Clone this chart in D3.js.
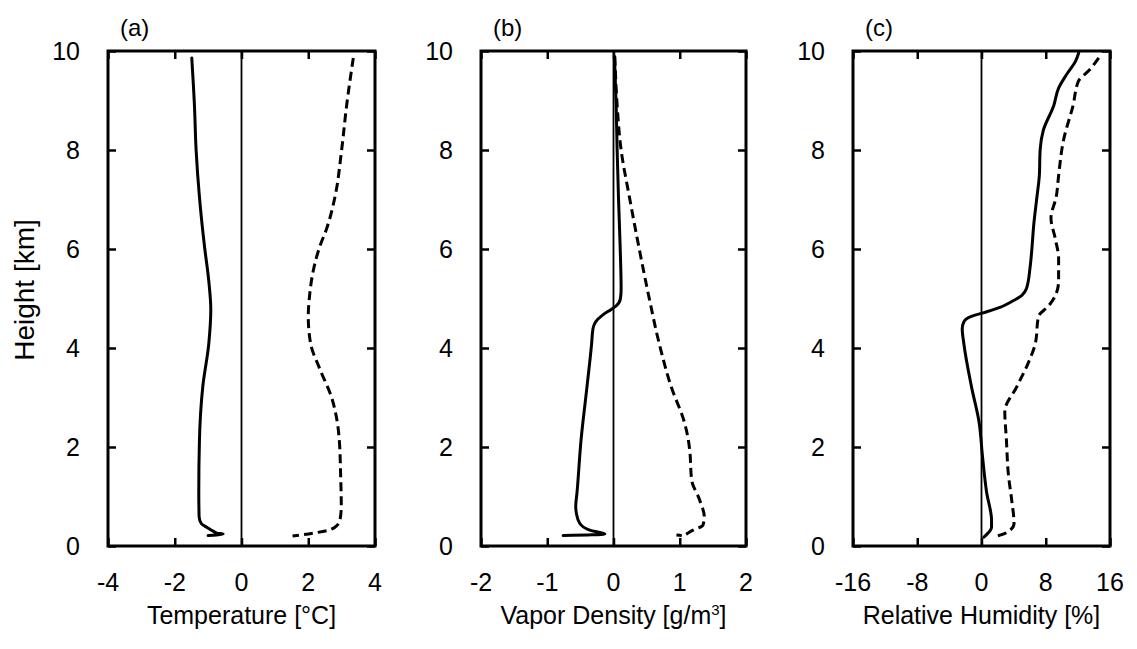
<!DOCTYPE html>
<html>
<head>
<meta charset="utf-8">
<script src="https://cdn.jsdelivr.net/npm/d3@7/dist/d3.min.js"></script>
<style>
body { margin: 0; background: #fff; }
text { font-family: "Liberation Sans", Arial, sans-serif; fill: #000; }
</style>
</head>
<body>
<div class="graph"></div>
<script>
// Profile values (height in km, difference per panel)
var tempSolidH = [9.86, 8.9, 8.0, 7.05, 6.06, 5.35, 4.78, 4.09, 3.22, 2.14, 1.09, 0.59, 0.45, 0.38, 0.3, 0.26, 0.24, 0.22, 0.21];
var tempSolidX = [-1.49, -1.41, -1.36, -1.26, -1.11, -0.98, -0.92, -0.98, -1.16, -1.26, -1.28, -1.27, -1.2, -1.04, -0.85, -0.74, -0.55, -0.75, -1.0];
var tempDashH = [9.86, 8.9, 8.0, 7.05, 6.41, 6.06, 5.56, 4.99, 4.64, 4.09, 3.57, 3.0, 2.5, 2.14, 1.44, 0.8, 0.525, 0.38, 0.31, 0.26, 0.22, 0.2];
var tempDashX = [3.35, 3.15, 3.0, 2.8, 2.55, 2.35, 2.15, 2.03, 2.0, 2.07, 2.35, 2.7, 2.87, 2.93, 2.97, 2.99, 2.95, 2.8, 2.55, 2.15, 1.75, 1.53];

var vapSolidH = [9.89, 8.9, 8.0, 7.05, 6.06, 5.2, 5.0, 4.85, 4.78, 4.67, 4.53, 4.39, 4.09, 3.22, 2.14, 1.09, 0.8, 0.66, 0.46, 0.32, 0.24, 0.21];
var vapSolidX = [0.015, 0.04, 0.055, 0.075, 0.1, 0.115, 0.105, 0.04, -0.035, -0.16, -0.27, -0.31, -0.33, -0.4, -0.49, -0.55, -0.57, -0.56, -0.51, -0.36, -0.13, -0.76];
var vapDashH = [9.89, 8.9, 8.0, 7.05, 6.06, 5.0, 4.09, 3.22, 2.5, 2.14, 1.94, 1.33, 0.93, 0.59, 0.42, 0.32, 0.24, 0.2, 0.22];
var vapDashX = [0.02, 0.055, 0.115, 0.24, 0.38, 0.54, 0.69, 0.87, 1.07, 1.13, 1.15, 1.18, 1.3, 1.37, 1.35, 1.2, 1.1, 1.05, 0.95];

var rhSolidH = [9.96, 9.79, 9.54, 9.25, 8.9, 8.4, 8.0, 7.48, 7.05, 6.48, 6.06, 5.63, 5.2, 5.06, 4.92, 4.82, 4.71, 4.64, 4.53, 4.39, 4.09, 3.22, 2.5, 1.8, 1.09, 0.52, 0.38, 0.23, 0.18];
var rhSolidX = [12.1, 11.7, 10.65, 9.6, 9.0, 7.7, 7.3, 7.2, 6.9, 6.5, 6.3, 6.05, 5.6, 5.0, 3.55, 2.3, 0.2, -1.25, -2.2, -2.4, -2.2, -1.25, -0.3, 0.13, 0.63, 1.25, 1.25, 0.63, 0.3];
var rhDashH = [9.86, 9.61, 9.4, 8.9, 8.19, 7.48, 7.05, 6.63, 6.2, 5.81, 5.35, 5.06, 4.85, 4.64, 4.09, 3.71, 3.22, 2.72, 2.15, 1.44, 0.94, 0.45, 0.27, 0.2];
var rhDashX = [14.6, 13.4, 12.1, 11.4, 10.2, 9.6, 9.3, 8.65, 9.2, 9.6, 9.6, 9.2, 8.35, 7.1, 6.7, 5.85, 4.4, 2.9, 3.1, 3.35, 3.75, 4.05, 3.1, 1.9];

// Axis ticks and labels
var heightTicks = [0, 2, 4, 6, 8, 10];
var tempTicks = [-4, -2, 0, 2, 4];
var vapTicks = [-2, -1, 0, 1, 2];
var rhTicks = [-16, -8, 0, 8, 16];
var panelLetters = ["(a)", "(b)", "(c)"];

var width = 1137, height = 649;
var plotTop = 51, plotBottom = 546;

var svg = d3.select(".graph").append("svg")
    .attr("width", width)
    .attr("height", height);

var yScale = d3.scaleLinear().domain([0, 10]).range([plotBottom, plotTop]);

// one entry per panel, built from the arrays above
var panels = [
    {letter: panelLetters[0], ticks: tempTicks, left: 108, right: 375,
     solid: {h: tempSolidH, x: tempSolidX}, dash: {h: tempDashH, x: tempDashX}},
    {letter: panelLetters[1], ticks: vapTicks, left: 481, right: 746,
     solid: {h: vapSolidH, x: vapSolidX}, dash: {h: vapDashH, x: vapDashX}},
    {letter: panelLetters[2], ticks: rhTicks, left: 853, right: 1110,
     solid: {h: rhSolidH, x: rhSolidX}, dash: {h: rhDashH, x: rhDashX}}
];

panels.forEach(function(p) {
    var xScale = d3.scaleLinear()
        .domain([p.ticks[0], p.ticks[p.ticks.length - 1]])
        .range([p.left, p.right]);

    var g = svg.append("g").attr("class", "panel");

    // inward ticks on all four sides
    var yAxisL = d3.axisRight(yScale).tickValues(heightTicks).tickSize(8).tickFormat("");
    var yAxisR = d3.axisLeft(yScale).tickValues(heightTicks).tickSize(8).tickFormat("");
    var xAxisB = d3.axisTop(xScale).tickValues(p.ticks).tickSize(8).tickFormat("");
    var xAxisT = d3.axisBottom(xScale).tickValues(p.ticks).tickSize(8).tickFormat("");

    [[yAxisL, "translate(" + p.left + ",0)"],
     [yAxisR, "translate(" + p.right + ",0)"],
     [xAxisB, "translate(0," + plotBottom + ")"],
     [xAxisT, "translate(0," + plotTop + ")"]].forEach(function(a) {
        var ax = g.append("g").attr("transform", a[1]).call(a[0]);
        ax.select(".domain").remove();
        ax.selectAll("line").attr("stroke", "#000").attr("stroke-width", 2.5);
    });

    // zero line
    g.append("line")
        .attr("x1", xScale(0)).attr("x2", xScale(0))
        .attr("y1", plotTop).attr("y2", plotBottom)
        .attr("stroke", "#000")
        .attr("stroke-width", 1.8);

    // profiles
    var line = d3.line()
        .curve(d3.curveMonotoneY)
        .x(function(d) { return xScale(d[1]); })
        .y(function(d) { return yScale(d[0]); });

    g.append("path")
        .datum(d3.zip(p.solid.h, p.solid.x))
        .attr("d", line)
        .attr("fill", "none")
        .attr("stroke", "#000")
        .attr("stroke-width", 3)
        .attr("stroke-linejoin", "round")
        .attr("stroke-linecap", "round");

    g.append("path")
        .datum(d3.zip(p.dash.h, p.dash.x))
        .attr("d", line)
        .attr("fill", "none")
        .attr("stroke", "#000")
        .attr("stroke-width", 3)
        .attr("stroke-dasharray", "9,5");

    // frame
    g.append("rect")
        .attr("x", p.left).attr("y", plotTop)
        .attr("width", p.right - p.left)
        .attr("height", plotBottom - plotTop)
        .attr("fill", "none")
        .attr("stroke", "#000")
        .attr("stroke-width", 3);

    // tick labels
    g.selectAll(".ylab")
        .data(heightTicks)
        .enter().append("text")
        .attr("class", "ylab")
        .attr("x", p.left - 28)
        .attr("y", function(d) { return yScale(d); })
        .attr("dy", "0.35em")
        .attr("text-anchor", "end")
        .style("font-size", "25px")
        .text(function(d) { return d; });

    g.selectAll(".xlab")
        .data(p.ticks)
        .enter().append("text")
        .attr("class", "xlab")
        .attr("x", function(d) { return xScale(d); })
        .attr("y", plotBottom + 45)
        .attr("text-anchor", "middle")
        .style("font-size", "25px")
        .text(function(d) { return d; });

    g.append("text")
        .attr("x", p.left + 12)
        .attr("y", 36)
        .style("font-size", "24px")
        .text(p.letter);
});

// axis titles
function xTitle(i) { return (panels[i].left + panels[i].right) / 2; }

svg.append("text")
    .attr("x", xTitle(0)).attr("y", 624)
    .attr("text-anchor", "middle")
    .style("font-size", "25px")
    .text("Temperature [°C]");

var vt = svg.append("text")
    .attr("x", xTitle(1)).attr("y", 624)
    .attr("text-anchor", "middle")
    .style("font-size", "25px");
vt.append("tspan").text("Vapor Density [g/m");
vt.append("tspan").attr("dy", -9).style("font-size", "15px").text("3");
vt.append("tspan").attr("dy", 9).text("]");

svg.append("text")
    .attr("x", xTitle(2)).attr("y", 624)
    .attr("text-anchor", "middle")
    .style("font-size", "25px")
    .text("Relative Humidity [%]");

svg.append("text")
    .attr("text-anchor", "middle")
    .attr("transform", "translate(34," + 290 + ")rotate(-90)")
    .style("font-size", "28px")
    .text("Height [km]");
</script>
</body>
</html>
